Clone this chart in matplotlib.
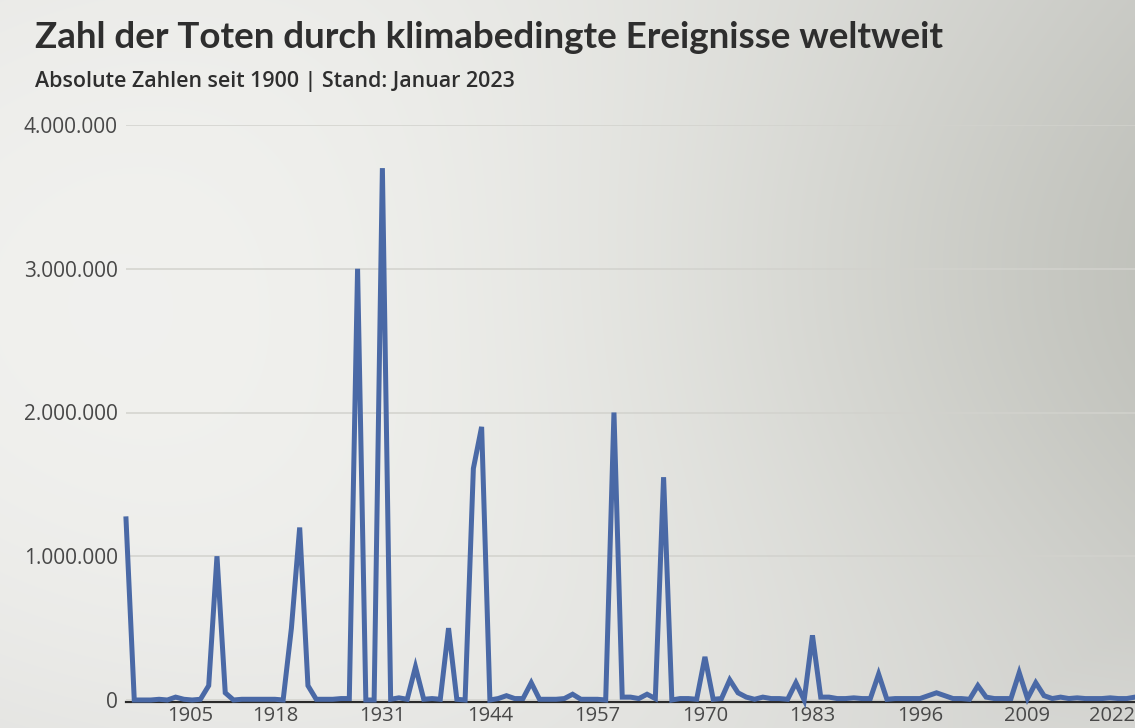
import numpy as np
import matplotlib.pyplot as plt
from matplotlib.ticker import FuncFormatter

# Daten: Tote durch klimabedingte Ereignisse (in Millionen), 1900-2022
jahre = list(range(1900, 2023))
tote_mio = [
    1.26, 0.0, 0.0, 0.0, 0.005, 0.0, 0.02, 0.005, 0.0, 0.005,      # 1900-1909
    0.10, 1.00, 0.05, 0.0, 0.005, 0.005, 0.005, 0.005, 0.005, 0.0,   # 1910-1919
    0.50, 1.20, 0.10, 0.005, 0.005, 0.005, 0.01, 0.01, 3.00, 0.0,    # 1920-1929
    0.0, 3.70, 0.005, 0.015, 0.005, 0.23, 0.005, 0.01, 0.005, 0.50,  # 1930-1939
    0.005, 0.0, 1.61, 1.90, 0.0, 0.01, 0.03, 0.01, 0.01, 0.12,       # 1940-1949
    0.005, 0.005, 0.005, 0.01, 0.04, 0.005, 0.005, 0.005, 0.0, 2.00, # 1950-1959
    0.02, 0.02, 0.01, 0.04, 0.01, 1.55, 0.0, 0.01, 0.01, 0.005,      # 1960-1969
    0.30, 0.005, 0.01, 0.14, 0.05, 0.02, 0.005, 0.02, 0.01, 0.01,    # 1970-1979
    0.005, 0.12, 0.0, 0.45, 0.02, 0.02, 0.01, 0.01, 0.015, 0.01,     # 1980-1989
    0.01, 0.18, 0.005, 0.01, 0.01, 0.01, 0.01, 0.03, 0.05, 0.03,     # 1990-1999
    0.01, 0.01, 0.005, 0.10, 0.02, 0.01, 0.01, 0.01, 0.19, 0.01,     # 2000-2009
    0.12, 0.03, 0.01, 0.02, 0.01, 0.015, 0.01, 0.01, 0.01, 0.015,    # 2010-2019
    0.01, 0.01, 0.02,                                                # 2020-2022
]
tote = np.array(tote_mio) * 1e6

x_ticks = [1905, 1918, 1931, 1944, 1957, 1970, 1983, 1996, 2009, 2022]
y_ticks = [0, 1e6, 2e6, 3e6, 4e6]

titel = "Zahl der Toten durch klimabedingte Ereignisse weltweit"
untertitel = "Absolute Zahlen seit 1900 | Stand: Januar 2023"

plt.rcParams['font.family'] = ['Open Sans', 'DejaVu Sans']

W, H = 1135, 728
fig = plt.figure(figsize=(W / 100, H / 100), dpi=100)

# Hintergrund: heller Fleck links, grauer Bereich rechts
yy, xx = np.mgrid[0:H, 0:W]
hell = np.array([0.962, 0.962, 0.952])
dunkel = np.array([0.16, 0.155, 0.17])
blob = np.exp(-(((xx - 1280) / 700.0) ** 2 + ((yy - 280) / 420.0) ** 2))
vign = np.clip(np.sqrt(((xx - 400) / 900.0) ** 2 + ((yy - 300) / 550.0) ** 2), 0, 1) ** 2
shade = blob[..., None] * dunkel + 0.075 * vign[..., None]
bg_img = np.clip(hell - shade, 0, 1)
bg = fig.add_axes([0, 0, 1, 1], zorder=0)
bg.imshow(bg_img, aspect='auto', extent=(0, 1, 0, 1))
bg.axis('off')

ax = fig.add_axes([126 / W, 28 / H, (W - 126) / W, 575 / H], zorder=1)
ax.patch.set_alpha(0)

ax.plot(jahre, tote, color='#4a69a6', lw=3.6, solid_joinstyle='miter',
        clip_on=False, zorder=3)

ax.set_xlim(1900, 2022)
ax.set_ylim(0, 4e6)
ax.set_xticks(x_ticks)
ax.set_yticks(y_ticks)
ax.yaxis.set_major_formatter(FuncFormatter(lambda v, p: f"{int(v):,}".replace(",", ".")))

ax.grid(axis='y', color='#d2d2cd', lw=1.1)
ax.grid(axis='x', visible=False)
for s in ['top', 'right', 'left']:
    ax.spines[s].set_visible(False)
ax.spines['bottom'].set_color('#2a2a2a')
ax.spines['bottom'].set_linewidth(1.6)
ax.spines['bottom'].set_position(('outward', 1.5))
ax.spines['bottom'].set_zorder(2)

ax.tick_params(axis='both', length=0, labelsize=15, labelcolor='#484848')
ax.tick_params(axis='x', pad=2.5, labelsize=14.5)
ax.tick_params(axis='y', pad=6)
xl = ax.get_xticklabels()
xl[0].set_horizontalalignment('left')
xl[-1].set_horizontalalignment('right')

fig.text(35 / W, 1 - 48 / H, titel, fontsize=26.5, fontweight='bold',
         family=['Lato', 'DejaVu Sans'], color='#2e2e2e', va='baseline', ha='left')
fig.text(35 / W, 1 - 87 / H, untertitel, fontsize=15.4, fontweight='semibold',
         color='#2e2e2e', va='baseline', ha='left')

fig.savefig('out.png', dpi=100)
